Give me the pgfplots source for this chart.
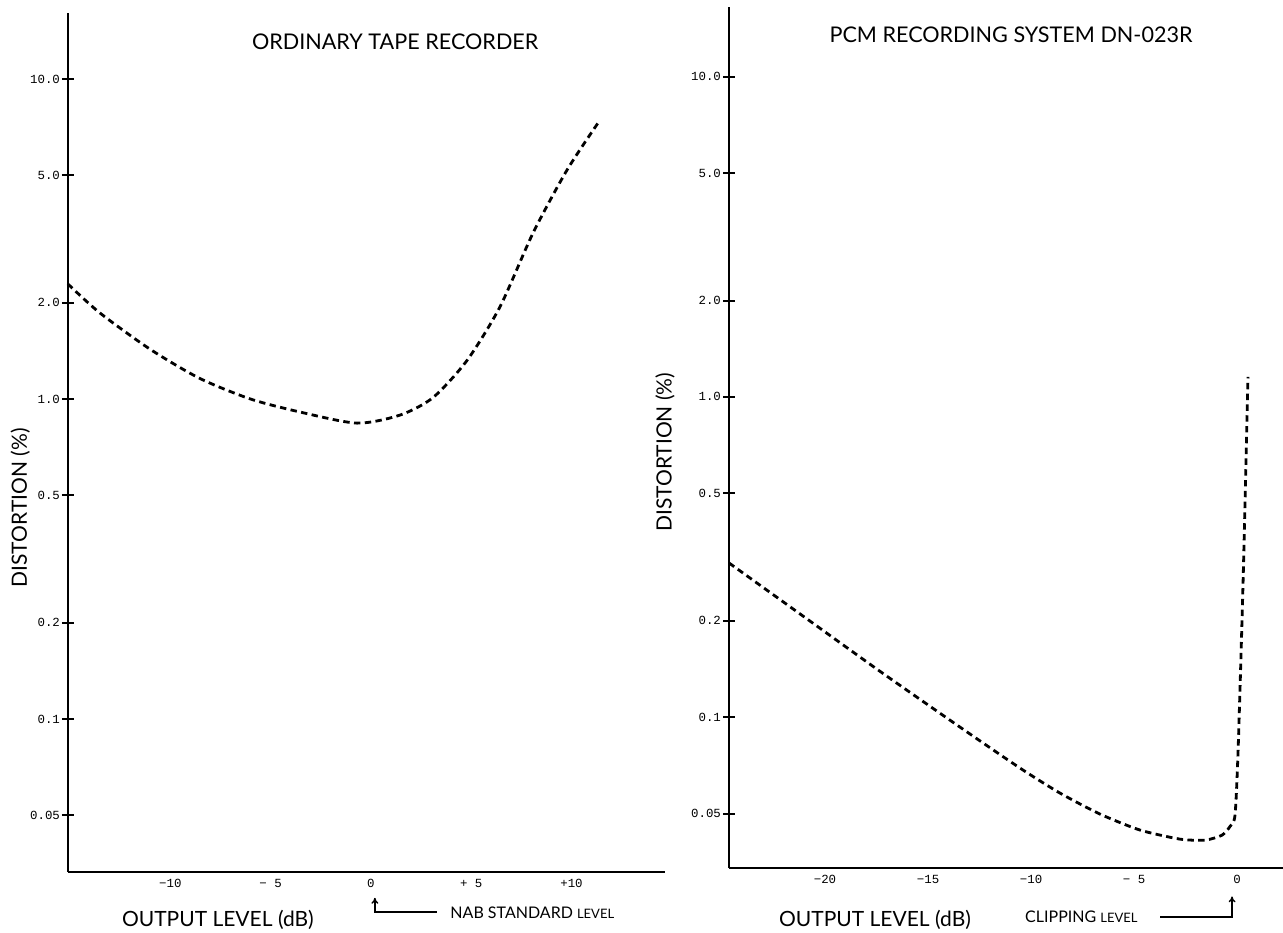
\documentclass[border=0pt]{standalone}
\usepackage{fontspec}
\setmainfont{Lato}
\newfontfamily\tickfont{Liberation Mono}
\usepackage{pgfplots}
\pgfplotsset{compat=1.18}
\usetikzlibrary{arrows.meta}
\begin{document}
\begin{tikzpicture}
\useasboundingbox (0,0) rectangle (641.5pt,466pt);
% Left panel
\begin{axis}[
  scale only axis,
  anchor=south west,
  at={(34pt,30pt)},
  width=298.5pt, height=429.5pt,
  ymode=log,
  axis x line=bottom,
  axis y line=left,
  axis line style={-, line width=1.1pt},
  clip=false,
  tick align=center,
  major tick length=6pt,
  ytick style={draw=black, line width=1pt},
  ytick={0.05,0.1,0.2,0.5,1,2,5,10},
  yticklabels={0.05,0.1,0.2,0.5,1.0,2.0,5.0,10.0},
  minor ytick={},
  ticklabel style={font=\tickfont\fontsize{6.2}{7}\selectfont},
  yticklabel style={xshift=2.5pt},
  xmin=-15.1, xmax=14.66, ymin=0.0333, ymax=16.07,
  xtick=\empty,
  extra x ticks={-10,-5,0,5,10},
  extra x tick labels={−10,− 5,0,+ 5,+10},
  extra x tick style={major tick length=0pt, tick style={draw=none}},
]
\addplot[black, line width=1.4pt, dash pattern=on 3.2pt off 2.2pt, smooth, tension=0.45] coordinates {
(-15.11,2.29) (-13.52,1.86) (-11.0,1.43) (-8.53,1.16) (-6.0,1.0) (-3.54,0.911)
(-0.70,0.841) (1.45,0.891) (3.09,1.01) (4.79,1.32) (6.43,1.94) (8.08,3.30)
(9.78,5.20) (11.42,7.44)
};
\node[font=\fontsize{10.8}{12}\selectfont] at (rel axis cs:0.548,0.966) {ORDINARY TAPE RECORDER};
\node[font=\fontsize{10.5}{12}\selectfont, rotate=90] at (rel axis cs:-0.080,0.424) {DISTORTION (\%)};
\node[font=\fontsize{10.5}{12}\selectfont] at (rel axis cs:0.251,-0.0559) {OUTPUT LEVEL (dB)};
\node[anchor=west, inner sep=0pt, font=\fontsize{8}{9}\selectfont] at (rel axis cs:0.640,-0.0477) {NAB STANDARD {\fontsize{6.5}{7}\selectfont LEVEL}};
\draw[line width=0.7pt, -{To[length=3pt,width=3.5pt]}] (rel axis cs:0.618,-0.0466) -- (rel axis cs:0.514,-0.0466) -- (rel axis cs:0.514,-0.0300);
\end{axis}
% Right panel
\begin{axis}[
  scale only axis,
  anchor=south west,
  at={(364.5pt,32pt)},
  width=277pt, height=430.5pt,
  ymode=log,
  axis x line=bottom,
  axis y line=left,
  axis line style={-, line width=1.1pt},
  clip=false,
  tick align=center,
  major tick length=6pt,
  ytick style={draw=black, line width=1pt},
  ytick={0.05,0.1,0.2,0.5,1,2,5,10},
  yticklabels={0.05,0.1,0.2,0.5,1.0,2.0,5.0,10.0},
  minor ytick={},
  ticklabel style={font=\tickfont\fontsize{6.2}{7}\selectfont},
  yticklabel style={xshift=2.5pt},
  xmin=-24.66, xmax=2.23, ymin=0.0338, ymax=16.5,
  xtick=\empty,
  extra x ticks={-20,-15,-10,-5,0},
  extra x tick labels={−20,−15,−10,− 5,0},
  extra x tick style={major tick length=0pt, tick style={draw=none}},
]
\addplot[black, line width=1.4pt, dash pattern=on 3.2pt off 2.2pt, smooth, tension=0.4] coordinates {
(-24.66,0.303) (-21.21,0.210) (-17.33,0.139) (-13.45,0.0931) (-10.53,0.0693)
(-8.59,0.0579) (-6.65,0.0498) (-4.71,0.0444) (-2.77,0.0416) (-1.55,0.0413)
(-0.73,0.0428) (-0.34,0.0456) (-0.10,0.0494) (0.05,0.0788) (0.29,0.262) (0.53,1.155)
};
\node[font=\fontsize{10.8}{12}\selectfont] at (rel axis cs:0.509,0.9675) {PCM RECORDING SYSTEM DN-023R};
\node[font=\fontsize{10.5}{12}\selectfont, rotate=90] at (rel axis cs:-0.1155,0.483) {DISTORTION (\%)};
\node[font=\fontsize{10.5}{12}\selectfont] at (rel axis cs:0.2635,-0.0604) {OUTPUT LEVEL (dB)};
\node[anchor=west, inner sep=0pt, font=\fontsize{8}{9}\selectfont] at (rel axis cs:0.534,-0.0569) {CLIPPING {\fontsize{6.5}{7}\selectfont LEVEL}};
\draw[line width=0.7pt, -{To[length=3pt,width=3.5pt]}] (rel axis cs:0.778,-0.0569) -- (rel axis cs:0.908,-0.0569) -- (rel axis cs:0.908,-0.0330);
\end{axis}
\end{tikzpicture}
\end{document}
